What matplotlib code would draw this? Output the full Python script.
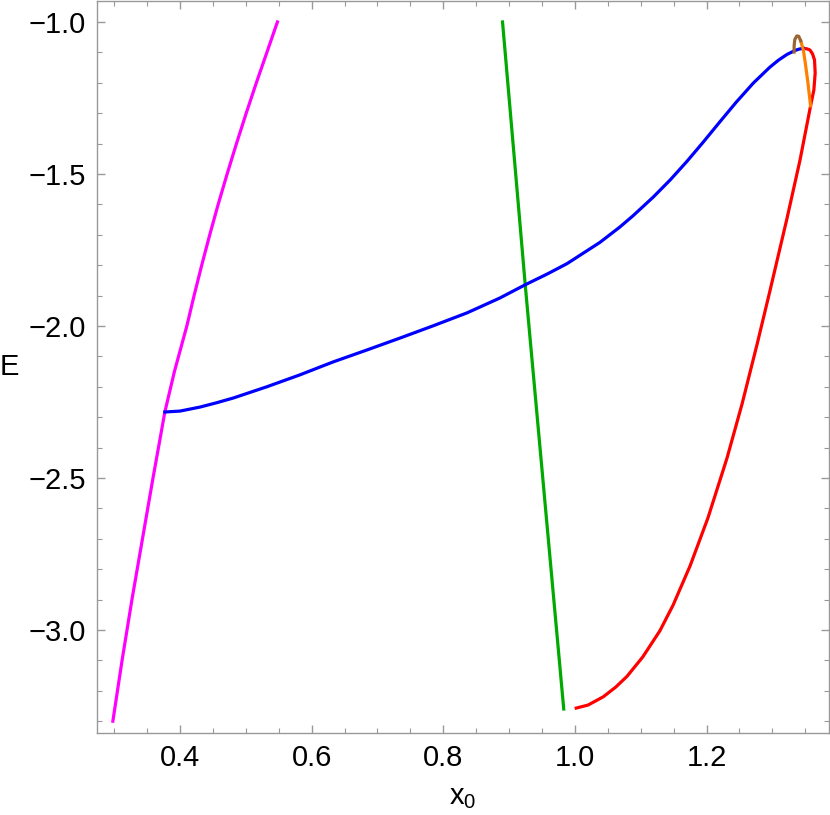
import matplotlib
matplotlib.use("Agg")
import matplotlib.pyplot as plt
from matplotlib.ticker import MultipleLocator

plt.rcParams['font.family'] = ['Liberation Sans', 'DejaVu Sans']
plt.rcParams['mathtext.default'] = 'regular'

# curves (x0, E)
magenta_x = [0.298, 0.312, 0.327, 0.343, 0.359, 0.377, 0.3915, 0.4104, 0.4214, 0.433, 0.4452, 0.458,
             0.4716, 0.4858, 0.5006, 0.516, 0.532, 0.548]
magenta_E = [-3.30, -3.10, -2.90, -2.70, -2.50, -2.283, -2.15, -2.00, -1.90, -1.80, -1.70, -1.60,
             -1.50, -1.40, -1.30, -1.20, -1.10, -1.00]

green_x = [0.890, 0.912, 0.9245, 0.983]
green_E = [-1.000, -1.550, -1.865, -3.260]

blue_x = [0.377, 0.400, 0.430, 0.455, 0.481, 0.532, 0.582, 0.633, 0.684, 0.734, 0.784, 0.836, 0.886, 0.924,
          0.958, 0.988, 1.038, 1.068, 1.088, 1.119, 1.145, 1.170, 1.195, 1.220, 1.245, 1.271, 1.296,
          1.309, 1.322, 1.334, 1.341, 1.347]
blue_E = [-2.283, -2.280, -2.267, -2.253, -2.237, -2.200, -2.161, -2.118, -2.079, -2.040, -2.000, -1.957,
          -1.908, -1.865, -1.829, -1.795, -1.725, -1.675, -1.638, -1.576, -1.519, -1.459, -1.395, -1.329,
          -1.264, -1.201, -1.149, -1.126, -1.107, -1.094, -1.089, -1.087]

red_x = [1.002, 1.020, 1.043, 1.062, 1.079, 1.103, 1.129, 1.149, 1.175, 1.202, 1.231, 1.254, 1.277, 1.296,
         1.322, 1.342, 1.358, 1.363, 1.365, 1.364, 1.361, 1.357, 1.352, 1.347]
red_E = [-3.257, -3.247, -3.220, -3.188, -3.153, -3.089, -3.003, -2.919, -2.789, -2.632, -2.435, -2.256,
         -2.058, -1.887, -1.648, -1.454, -1.276, -1.224, -1.168, -1.125, -1.105, -1.092, -1.088, -1.087]

orange_x = [1.358, 1.354, 1.350, 1.347, 1.343]
orange_E = [-1.276, -1.200, -1.135, -1.092, -1.062]

brown_x = [1.343, 1.340, 1.337, 1.334, 1.333, 1.333]
brown_E = [-1.062, -1.047, -1.046, -1.058, -1.080, -1.099]

fig = plt.figure(figsize=(8.3, 8.15), dpi=100)
ax = fig.add_axes([97/830, 1-733/815, 732/830, 732/815])

lw = 2.3
ax.plot(magenta_x, magenta_E, color='#ff00ff', lw=lw)
ax.plot(green_x, green_E, color='#00aa00', lw=lw)
ax.plot(red_x, red_E, color='#ff0000', lw=lw)
ax.plot(blue_x, blue_E, color='#0000ff', lw=lw)
ax.plot(orange_x, orange_E, color='#ff8000', lw=lw)
ax.plot(brown_x, brown_E, color='#996633', lw=lw)

ax.set_xlim(0.2739, 1.386)
ax.set_ylim(-3.339, -0.931)

ax.xaxis.set_major_locator(MultipleLocator(0.2))
ax.xaxis.set_minor_locator(MultipleLocator(0.05))
ax.yaxis.set_major_locator(MultipleLocator(0.5))
ax.yaxis.set_minor_locator(MultipleLocator(0.1))

gray = '#999999'
for s in ax.spines.values():
    s.set_color(gray)
    s.set_linewidth(1.0)
ax.tick_params(which='both', direction='in', top=True, right=True, color=gray,
               labelsize=21, labelcolor='black')
ax.tick_params(which='major', length=6, width=1.0, pad=8)
ax.tick_params(which='minor', length=3.5, width=0.8)

ax.set_xlabel('x$_0$', fontsize=21, labelpad=8)
ax.set_ylabel('E', fontsize=21, rotation=0, labelpad=14, va='center')

fig.savefig('out.png', dpi=100)
